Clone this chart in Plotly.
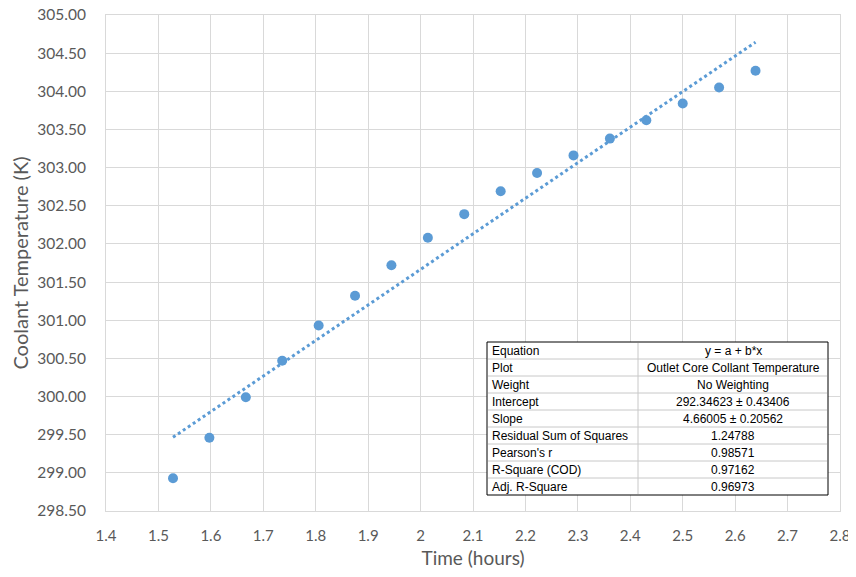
import plotly.graph_objects as go

# ---- data ----
time_hours = [1.5278, 1.5972, 1.6667, 1.7361, 1.8056, 1.8750, 1.9444, 2.0139,
              2.0833, 2.1528, 2.2222, 2.2917, 2.3611, 2.4306, 2.5000, 2.5694, 2.6389]
coolant_temp = [298.93, 299.46, 299.99, 300.47, 300.93, 301.32, 301.72, 302.08,
                302.39, 302.69, 302.93, 303.16, 303.38, 303.62, 303.84, 304.05, 304.27]

fit_intercept = 292.34623
fit_slope = 4.66005

table_labels = ["Equation", "Plot", "Weight", "Intercept", "Slope",
                "Residual Sum of Squares", "Pearson's r", "R-Square (COD)", "Adj. R-Square"]
table_values = ["y = a + b*x", "Outlet Core Collant Temperature", "No Weighting",
                "292.34623 ± 0.43406", "4.66005 ± 0.20562", "1.24788",
                "0.98571", "0.97162", "0.96973"]

x_ticks = [1.4, 1.5, 1.6, 1.7, 1.8, 1.9, 2.0, 2.1, 2.2, 2.3, 2.4, 2.5, 2.6, 2.7, 2.8]
x_tick_text = ["1.4", "1.5", "1.6", "1.7", "1.8", "1.9", "2", "2.1", "2.2", "2.3",
               "2.4", "2.5", "2.6", "2.7", "2.8"]

# ---- figure (page body has an 8px margin) ----
OFF = 8
W, H = 856 - OFF, 577 - OFF
ML, MR, MT, MB = 106 - OFF, 16, 15 - OFF, 66
color = "#5b9bd5"
grid = "#d9d9d9"
label_col = "#595959"
font_family = "Lato, 'Open Sans', sans-serif"

fig = go.Figure()

trend_x = [time_hours[0], time_hours[-1]]
trend_y = [fit_intercept + fit_slope * v for v in trend_x]
fig.add_trace(go.Scatter(x=trend_x, y=trend_y, mode="lines",
                         line=dict(color=color, width=3, dash="dot"),
                         showlegend=False, hoverinfo="skip"))
fig.add_trace(go.Scatter(x=time_hours, y=coolant_temp, mode="markers",
                         marker=dict(color=color, size=10),
                         showlegend=False))

fig.update_layout(
    width=W, height=H,
    margin=dict(l=ML, r=MR, t=MT, b=MB, autoexpand=False),
    plot_bgcolor="white", paper_bgcolor="white",
    font=dict(family=font_family, color=label_col),
    xaxis=dict(range=[1.4, 2.8], tickvals=x_ticks, ticktext=x_tick_text,
               automargin=False, ticklabeloverflow="allow",
               showgrid=True, gridcolor=grid, gridwidth=1,
               showline=True, linecolor=grid, linewidth=1, mirror=True,
               zeroline=False, ticks="", ticklabelstandoff=11,
               tickfont=dict(size=15, color=label_col),
               title=dict(text="Time (hours)", font=dict(size=19, color=label_col), standoff=8)),
    yaxis=dict(range=[298.5, 305.0], dtick=0.5, tick0=298.5, tickformat=".2f",
               automargin=False, ticklabeloverflow="allow",
               showgrid=True, gridcolor=grid, gridwidth=1,
               showline=True, linecolor=grid, linewidth=1, mirror=True,
               zeroline=False, ticks="", ticklabelstandoff=16,
               tickfont=dict(size=15.5, color=label_col),
               title=dict(text="Coolant Temperature (K)", font=dict(size=20, color=label_col), standoff=3)),
)

# ---- statistics table (shapes + text) ----
pw = W - ML - MR
ph = H - MT - MB
def px_to_paper_x(px):
    return (px - OFF - ML) / pw
def px_to_paper_y(py):
    return (H - MB - (py - OFF)) / ph

tb_left, tb_mid, tb_right = 487, 638, 828
tb_top, row_h = 342, 17
n = len(table_labels)
tb_bottom = tb_top + n * row_h

shapes = []
shapes.append(dict(type="rect", xref="paper", yref="paper",
                   x0=px_to_paper_x(tb_left), x1=px_to_paper_x(tb_right),
                   y0=px_to_paper_y(tb_bottom), y1=px_to_paper_y(tb_top),
                   fillcolor="white", line=dict(color="#000000", width=1), layer="above"))
for i in range(1, n):
    yy = px_to_paper_y(tb_top + i * row_h)
    shapes.append(dict(type="line", xref="paper", yref="paper",
                       x0=px_to_paper_x(tb_left + 1), x1=px_to_paper_x(tb_right - 1),
                       y0=yy, y1=yy, line=dict(color="#c8c8c8", width=1), layer="above"))
shapes.append(dict(type="line", xref="paper", yref="paper",
                   x0=px_to_paper_x(tb_mid), x1=px_to_paper_x(tb_mid),
                   y0=px_to_paper_y(tb_bottom - 1), y1=px_to_paper_y(tb_top + 1),
                   line=dict(color="#c8c8c8", width=1), layer="above"))

annotations = []
for i, (lab, val) in enumerate(zip(table_labels, table_values)):
    yc = px_to_paper_y(tb_top + i * row_h + row_h / 2 + 0.5)
    annotations.append(dict(xref="paper", yref="paper", x=px_to_paper_x(tb_left + 3), y=yc,
                            text=lab, showarrow=False, xanchor="left", yanchor="middle",
                            font=dict(family="Arial, 'Liberation Sans', sans-serif", size=12, color="#000000")))
    annotations.append(dict(xref="paper", yref="paper", x=px_to_paper_x((tb_mid + tb_right) / 2), y=yc,
                            text=val, showarrow=False, xanchor="center", yanchor="middle",
                            font=dict(family="Arial, 'Liberation Sans', sans-serif", size=12, color="#000000")))

fig.update_layout(shapes=shapes, annotations=annotations)

fig.write_html("out.html")
